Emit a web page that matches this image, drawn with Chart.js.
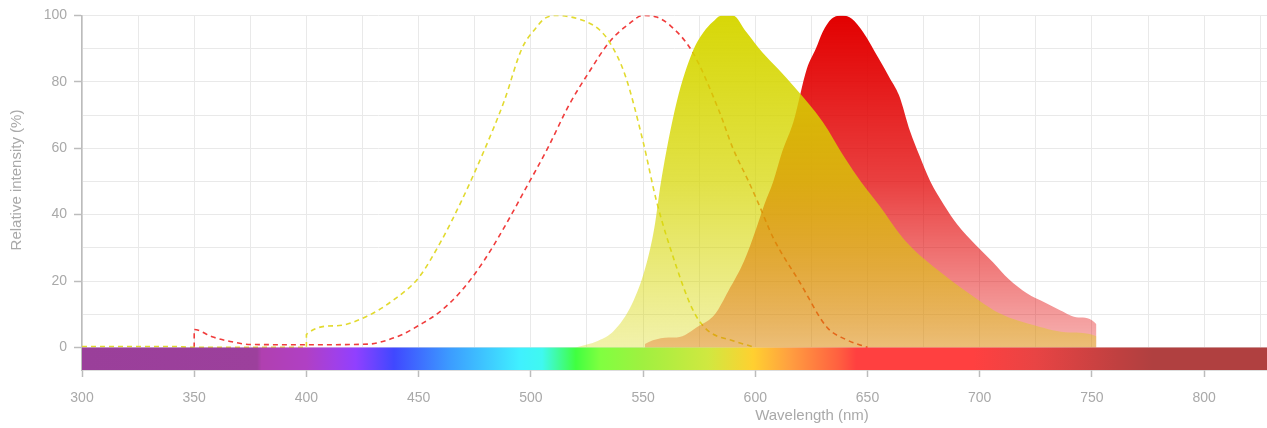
<!DOCTYPE html>
<html><head><meta charset="utf-8">
<script src="https://cdn.jsdelivr.net/npm/chart.js@4.4.1/dist/chart.umd.min.js"></script>
<style>html,body{margin:0;padding:0;background:#fff;overflow:hidden}#wrap{width:1267px;height:428px;position:relative}canvas{display:block}</style>
</head><body><div id="wrap"><canvas id="c" width="1267" height="428" style="width:1267px;height:428px"></canvas></div>
<script>
// ---------- data ----------
const xTitle = 'Wavelength (nm)';
const yTitle = 'Relative intensity (%)';
const xTickLabels = [300, 350, 400, 450, 500, 550, 600, 650, 700, 750, 800];
const xGridValues = [300,325,350,375,400,425,450,475,500,525,550,575,600,625,650,675,700,725,750,775,800,825];
const yTickLabels = [0, 20, 40, 60, 80, 100];
const yGridValues = [0, 10, 20, 30, 40, 50, 60, 70, 80, 90, 100];
const xRange = [300, 828];
const yRange = [-6.8, 100];

// excitation (dashed) – yellow dye
const exYellowX = [300, 340, 350, 399.99, 400, 413, 427, 439, 450, 460, 469, 479, 488, 496, 502, 506, 511, 518, 525, 530, 535, 542, 550, 556, 565, 571, 575, 580, 590, 600];
const exYellowY = [0.3, 0.3, 0, 0, 3.9, 6.5, 9.4, 14.4, 21, 32, 44, 59, 74, 90, 96, 99, 100, 99.5, 98, 96, 92, 82, 62, 44, 24, 13, 8, 4.5, 2, 0];
// excitation (dashed) – red dye
const exRedX = [349.99, 350, 358, 366, 375, 400, 428, 436, 443, 450, 459, 469, 479, 488, 497, 507.5, 517, 526, 535, 544, 550, 556, 562, 572, 584, 590, 597, 601, 608, 620, 632, 640, 650];
const exRedY = [0, 5.4, 3.2, 1.8, 0.9, 0.8, 1, 2.2, 4, 6.6, 10.5, 17, 26, 36, 47, 60, 73, 83, 92, 97.6, 100, 99.5, 97, 89, 71, 60, 50, 44, 33, 19.4, 6, 2.5, 0];
// emission (filled) – yellow dye
const emYellowX = [520, 530, 537, 545, 551, 555, 558, 565, 572, 577, 581, 585, 590, 596, 603, 610, 618, 630, 640, 647, 655, 667, 683, 700, 709, 725, 740, 752, 752.01];
const emYellowY = [0, 2, 5, 13, 24, 36, 50, 74, 89, 95, 98, 100, 100, 95, 89, 84, 78, 68, 57, 50, 43, 32, 22.4, 14, 10.2, 6.5, 4.5, 3.4, 0];
// emission (filled) – red dye
const emRedX = [550.8, 550.81, 565, 575, 582, 588, 595, 600, 604, 608, 612, 617, 623, 627, 630, 634, 639, 643, 648, 655, 660, 664, 669, 673, 678, 684, 690, 698, 706, 713, 721, 729, 736, 744, 752, 752.01];
const emRedY = [0, 1, 3, 6.5, 10, 17, 26, 35, 43, 50, 59, 68, 84, 90, 95, 99, 100, 99, 95, 87, 81, 76, 65, 58, 50, 43, 37, 31, 25.6, 20.5, 16.3, 13.5, 11.1, 9, 7, 0];
// visible spectrum bar colour stops (nm, colour)
const spectrumNm = [300, 378, 380, 400, 413, 422, 439, 464, 495, 505, 520, 531, 550, 579, 599, 615, 637, 645, 697, 725, 761, 777, 828];
const spectrumColors = ['#9a3f9a','#9c409c','#b040b0','#b040c4','#a040e8','#9040ff','#4048ff','#3c9cff','#40f0ff','#40f8f0','#40ff40','#80ff40','#a0f040','#d0e840','#ffd030','#ffa040','#ff6040','#ff4040','#ff4040','#e84444','#c04040','#b04040','#b04040'];

// ---------- helpers ----------
const pts = (xs, ys) => xs.map((x, i) => ({x, y: ys[i]}));
const FONT = "'Liberation Sans', Arial, sans-serif";
const TEXT = '#a9a9a9';
const AXIS = '#bcbcbc';
const GRID = '#e9e9e9';

function vGrad(ctx, rgb, stops) {
  const chart = ctx.chart;
  if (!chart.chartArea) return `rgba(${rgb},0.6)`;
  const y = chart.scales.y;
  const g = chart.ctx.createLinearGradient(0, y.getPixelForValue(0), 0, y.getPixelForValue(100));
  stops.forEach(([p, a]) => g.addColorStop(p, `rgba(${rgb},${a})`));
  return g;
}
function spectrum(ctx) {
  const chart = ctx.chart;
  if (!chart.chartArea) return spectrumColors[0];
  const xs = chart.scales.x;
  const x0 = xs.getPixelForValue(xRange[0]), x1 = xs.getPixelForValue(xRange[1]);
  const g = chart.ctx.createLinearGradient(x0, 0, x1, 0);
  spectrumNm.forEach((nm, i) => g.addColorStop((nm - xRange[0]) / (xRange[1] - xRange[0]), spectrumColors[i]));
  return g;
}

const titlePlugin = {
  id: 'axisTitles',
  afterDraw(chart) {
    const c = chart.ctx;
    c.save();
    c.fillStyle = TEXT;
    c.font = `15px ${FONT}`;
    c.textAlign = 'center';
    c.textBaseline = 'middle';
    c.fillText(xTitle, 812, 416);
    c.translate(17, 180);
    c.rotate(-Math.PI / 2);
    c.fillText(yTitle, 0, 0);
    c.restore();
  }
};

const lineBase = {pointRadius: 0, pointHoverRadius: 0, cubicInterpolationMode: 'monotone'};

new Chart(document.getElementById('c'), {
  type: 'line',
  data: {
    datasets: [
      Object.assign({}, lineBase, {
        label: 'spectrum', data: pts(xRange, [0, 0]), fill: 'start', borderWidth: 0,
        backgroundColor: spectrum, order: 0, cubicInterpolationMode: 'default', tension: 0
      }),
      Object.assign({}, lineBase, {
        label: 'Em yellow', data: pts(emYellowX, emYellowY), fill: 'origin', borderWidth: 0,
        backgroundColor: (ctx) => vGrad(ctx, '214,214,0', [[0, 0.33], [0.5, 0.72], [1, 0.97]]), order: 1
      }),
      Object.assign({}, lineBase, {
        label: 'Em red', data: pts(emRedX, emRedY), fill: 'origin', borderWidth: 0,
        backgroundColor: (ctx) => vGrad(ctx, '226,0,0', [[0, 0.3], [0.5, 0.75], [1, 1]]), order: 2
      }),
      Object.assign({}, lineBase, {
        label: 'Ex yellow', data: pts(exYellowX, exYellowY), fill: false, borderWidth: 1.6,
        borderColor: '#e2da30', borderDash: [5, 4], order: 3
      }),
      Object.assign({}, lineBase, {
        label: 'Ex red', data: pts(exRedX, exRedY), fill: false, borderWidth: 1.6,
        borderColor: '#f03c3c', borderDash: [5, 4], order: 4
      })
    ]
  },
  options: {
    responsive: false,
    maintainAspectRatio: false,
    devicePixelRatio: 1,
    animation: false,
    events: [],
    layout: {padding: {top: 14, right: 0, bottom: 0, left: 0}},
    plugins: {legend: {display: false}, tooltip: {enabled: false}},
    scales: {
      x: {
        type: 'linear', min: xRange[0], max: xRange[1],
        afterBuildTicks: (s) => { s.ticks = xGridValues.map(v => ({value: v})); },
        afterFit: (s) => { s.height = 58; s.paddingRight = 0; s.paddingLeft = 0; },
        grid: {
          color: GRID, lineWidth: 1, drawTicks: true, tickLength: 7, tickWidth: 1.5,
          tickColor: (ctx) => xTickLabels.includes(ctx.tick && ctx.tick.value) ? AXIS : 'rgba(0,0,0,0)'
        },
        border: {display: true, color: AXIS, width: 1.5},
        ticks: {
          autoSkip: false, maxRotation: 0, padding: 13, color: TEXT, font: {family: FONT, size: 14},
          callback: (v) => xTickLabels.includes(v) ? String(v) : ''
        },
        title: {display: false}
      },
      y: {
        type: 'linear', min: yRange[0], max: yRange[1],
        afterBuildTicks: (s) => { s.ticks = yGridValues.map(v => ({value: v})); },
        afterFit: (s) => { s.width = 82; },
        grid: {
          color: GRID, lineWidth: 1, drawTicks: true, tickLength: 8, tickWidth: 1.5,
          tickColor: (ctx) => yTickLabels.includes(ctx.tick && ctx.tick.value) ? AXIS : 'rgba(0,0,0,0)'
        },
        border: {display: true, color: AXIS, width: 1.5},
        ticks: {
          autoSkip: false, padding: 7, color: TEXT, font: {family: FONT, size: 14},
          callback: (v) => yTickLabels.includes(v) ? String(v) : ''
        },
        title: {display: false}
      }
    }
  },
  plugins: [titlePlugin]
});
</script></body></html>
